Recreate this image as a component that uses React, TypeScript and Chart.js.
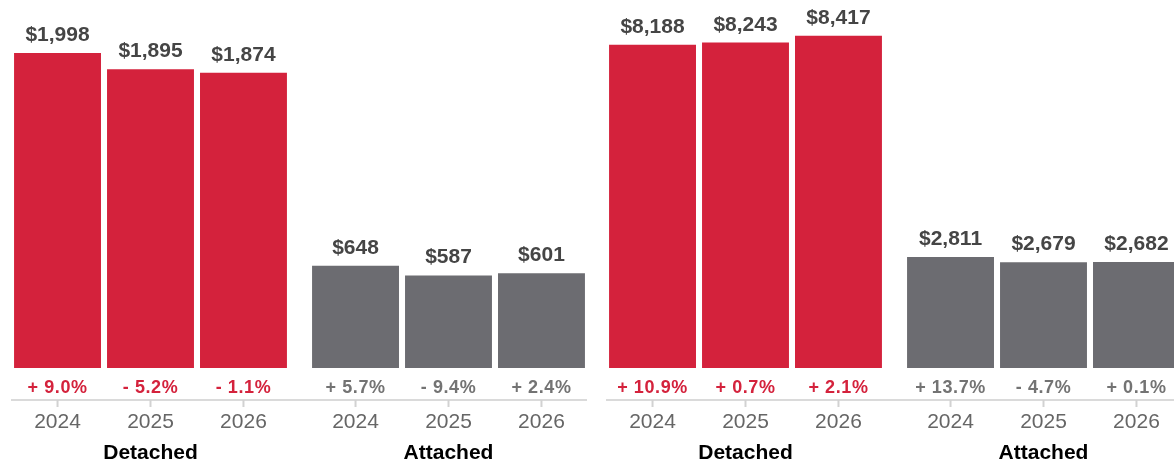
import React, { useEffect, useRef } from "react";
import { Chart, registerables } from "chart.js";

Chart.register(...registerables);

const groups = ["Detached", "Attached"];
const years = ["2024", "2025", "2026"];

const leftDetached = [1998, 1895, 1874];
const leftAttached = [648, 587, 601];
const leftDetachedChange = [9.0, -5.2, -1.1];
const leftAttachedChange = [5.7, -9.4, 2.4];
const leftMax = 2335;

const rightDetached = [8188, 8243, 8417];
const rightAttached = [2811, 2679, 2682];
const rightDetachedChange = [10.9, 0.7, 2.1];
const rightAttachedChange = [13.7, -4.7, 0.1];
const rightMax = 9320;

const RED = "#D4223C";
const GRAY = "#6C6C71";
const FONT = "'Liberation Sans', Arial, Helvetica, sans-serif";

function fmtMoney(v: number) {
  return "$" + v.toLocaleString("en-US");
}
function fmtPct(v: number) {
  return (v >= 0 ? "+ " : "- ") + Math.abs(v).toFixed(1) + "%";
}

function makePlugin(changes: number[][]) {
  return {
    id: "panelLabels",
    afterDatasetsDraw(chart: any) {
      const ctx = chart.ctx as CanvasRenderingContext2D;
      const area = chart.chartArea;
      const base = area.bottom;
      ctx.save();
      // axis line
      ctx.strokeStyle = "#dadada";
      ctx.lineWidth = 2;
      ctx.beginPath();
      ctx.moveTo(area.left + 9.5, base + 32);
      ctx.lineTo(area.right - 10.5, base + 32);
      ctx.stroke();
      chart.data.datasets.forEach((ds: any, j: number) => {
        const meta = chart.getDatasetMeta(j);
        meta.data.forEach((bar: any, i: number) => {
          const x = bar.x;
          const y = bar.y;
          // value label
          ctx.textAlign = "center";
          ctx.textBaseline = "alphabetic";
          ctx.fillStyle = "#454545";
          ctx.font = `bold 21px ${FONT}`;
          ctx.fillText(fmtMoney(ds.data[i]), x, y - 12);
          // percent label
          ctx.font = `bold 18px ${FONT}`;
          (ctx as any).letterSpacing = "0.6px";
          ctx.fillStyle = i === 0 ? RED : "#737373";
          ctx.fillText(fmtPct(changes[i][j]), x, base + 25);
          (ctx as any).letterSpacing = "0px";
          // tick
          ctx.strokeStyle = "#d2d2d2";
          ctx.lineWidth = 2;
          ctx.beginPath();
          ctx.moveTo(x, base + 32);
          ctx.lineTo(x, base + 39);
          ctx.stroke();
          // year label
          ctx.font = `21px ${FONT}`;
          ctx.fillStyle = "#666666";
          ctx.fillText(years[j], x, base + 60);
        });
      });
      ctx.restore();
    },
  };
}

function Panel(props: {
  detached: number[];
  attached: number[];
  detachedChange: number[];
  attachedChange: number[];
  max: number;
  left: number;
}) {
  const ref = useRef<HTMLCanvasElement>(null);
  useEffect(() => {
    if (!ref.current) return;
    const datasets = years.map((yr, j) => ({
      label: yr,
      data: [props.detached[j], props.attached[j]],
      backgroundColor: [RED, GRAY],
      borderWidth: 0,
      categoryPercentage: 0.936,
      barPercentage: 0.935,
    }));
    const chart = new Chart(ref.current, {
      type: "bar",
      data: { labels: groups, datasets },
      options: {
        responsive: false,
        animation: false,
        layout: { padding: { left: 1.5, right: 0.5, top: 0, bottom: 0 } },
        plugins: {
          legend: { display: false },
          tooltip: { enabled: false },
        },
        scales: {
          x: {
            grid: { display: false, drawTicks: false },
            border: { display: false },
            ticks: {
              color: "#000000",
              font: { family: FONT, size: 21, weight: "bold" },
              padding: 73,
              maxRotation: 0,
            },
            afterFit: (scale: any) => {
              scale.height = 98;
            },
          },
          y: {
            display: false,
            min: 0,
            max: props.max,
          },
        },
      },
      plugins: [makePlugin([props.detachedChange, props.attachedChange])],
    });
    return () => chart.destroy();
  }, []);
  return (
    <div style={{ position: "absolute", left: props.left, top: 0, width: 598, height: 466 }}>
      <canvas ref={ref} width={598} height={466} style={{ display: "block" }} />
    </div>
  );
}

export default function App() {
  return (
    <div
      style={{
        position: "absolute",
        left: 0,
        top: 0,
        width: 1174,
        height: 466,
        overflow: "hidden",
        background: "#ffffff",
      }}
    >
      <Panel
        detached={leftDetached}
        attached={leftAttached}
        detachedChange={leftDetachedChange}
        attachedChange={leftAttachedChange}
        max={leftMax}
        left={0}
      />
      <Panel
        detached={rightDetached}
        attached={rightAttached}
        detachedChange={rightDetachedChange}
        attachedChange={rightAttachedChange}
        max={rightMax}
        left={595}
      />
    </div>
  );
}
